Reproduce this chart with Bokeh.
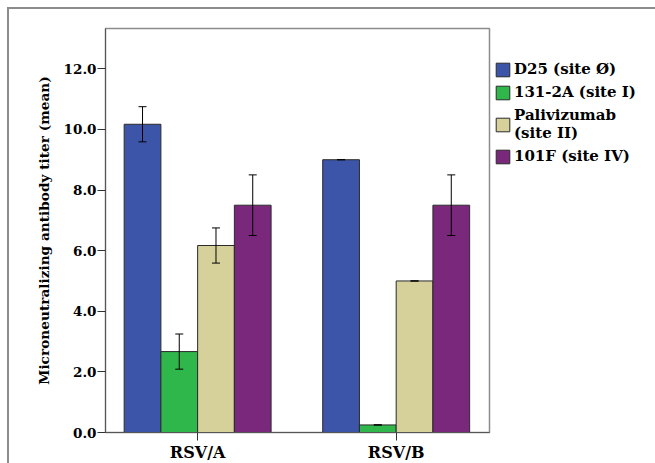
from bokeh.plotting import figure
from bokeh.models import (ColumnDataSource, Range1d, FixedTicker, Whisker, TeeHead,
                          Legend, LegendItem)
from bokeh.embed import file_html
from bokeh.resources import INLINE

# ---- data ----
groups = ["RSV/A", "RSV/B"]
series_labels = ["D25 (site Ø)", "131-2A (site I)", "Palivizumab\n(site II)", "101F (site IV)"]
d25 = [10.17, 9.00]
mab131 = [2.67, 0.25]
palivizumab = [6.17, 5.00]
f101 = [7.50, 7.50]
d25_err = [0.58, 0.0]
mab131_err = [0.58, 0.0]
palivizumab_err = [0.58, 0.0]
f101_err = [1.00, 1.00]
y_ticks = [0, 2, 4, 6, 8, 10, 12]

colors = ["#3d55a9", "#2fb74b", "#d6d09b", "#7a287b"]
values = [d25, mab131, palivizumab, f101]
errors = [d25_err, mab131_err, palivizumab_err, f101_err]

FONT = "DejaVu Serif"
bar_w = 0.185
centers = [0.5, 1.5]
offsets = [-1.5 * bar_w, -0.5 * bar_w, 0.5 * bar_w, 1.5 * bar_w]

p = figure(frame_width=384, frame_height=404, output_backend="svg", toolbar_location=None,
           x_range=Range1d(0.036, 1.970), y_range=Range1d(0, 13.33),
           min_border_left=105, min_border_right=166, min_border_top=28, min_border_bottom=31)

p.xgrid.visible = False
p.ygrid.visible = False
p.outline_line_color = "#8c8c8c"
p.outline_line_width = 1.5
p.background_fill_color = "white"
p.border_fill_alpha = 0
# outer page frame (top and left edges) drawn as page background
p.styles = {
    "background": ("linear-gradient(#8c8c8c, #8c8c8c) 7px 7px / 2px 100% no-repeat, "
                   "linear-gradient(#8c8c8c, #8c8c8c) 7px 7px / 100% 2px no-repeat, white"),
}

renderers = []
for vals, errs, col, off in zip(values, errors, colors, offsets):
    xs = [c + off for c in centers]
    src = ColumnDataSource(dict(x=xs, top=vals,
                                upper=[v + e for v, e in zip(vals, errs)],
                                lower=[v - e for v, e in zip(vals, errs)]))
    r = p.vbar(x="x", top="top", bottom=0, width=bar_w, source=src,
               fill_color=col, line_color="#2a2a2a", line_width=1)
    renderers.append(r)
    w = Whisker(base="x", upper="upper", lower="lower", source=src, level="annotation",
                line_color="black", line_width=1,
                upper_head=TeeHead(size=8, line_color="black", line_width=1),
                lower_head=TeeHead(size=8, line_color="black", line_width=1))
    p.add_layout(w)

# axes
p.xaxis.ticker = FixedTicker(ticks=centers)
p.xaxis.major_label_overrides = {c: g for c, g in zip(centers, groups)}
p.yaxis.ticker = FixedTicker(ticks=y_ticks)
p.yaxis.major_label_overrides = {t: f"{t:.1f}" for t in y_ticks}
for ax in (p.xaxis[0], p.yaxis[0]):
    ax.minor_tick_line_color = None
    ax.major_tick_in = 0
    ax.major_tick_out = 8
    ax.major_tick_line_color = "#333333"
    ax.axis_line_color = "#555555"
    ax.major_label_text_font = FONT
    ax.major_label_text_font_style = "bold"
    ax.major_label_text_color = "black"
p.yaxis.major_label_text_font_size = "13.5px"
p.xaxis.major_label_text_font_size = "16px"
p.yaxis.major_label_standoff = 1
p.xaxis.major_label_standoff = 2
p.yaxis.axis_label = "Microneutralizing antibody titer (mean)"
p.yaxis.axis_label_text_font = FONT
p.yaxis.axis_label_text_font_style = "bold"
p.yaxis.axis_label_text_font_size = "13.7px"
p.yaxis.axis_label_text_color = "black"
p.yaxis.axis_label_standoff = 9

items = [LegendItem(label=lab, renderers=[r]) for lab, r in zip(series_labels, renderers)]
legend = Legend(items=items, location=(5, 267), orientation="vertical",
                border_line_color=None, background_fill_alpha=0,
                padding=0, margin=0, spacing=5,
                glyph_width=17, glyph_height=17, label_standoff=3,
                label_text_font=FONT, label_text_font_style="bold",
                label_text_font_size="15px", label_text_color="black",
                label_text_line_height=1.3)
p.add_layout(legend, "right")

open("out.html", "w").write(file_html(p, INLINE))
